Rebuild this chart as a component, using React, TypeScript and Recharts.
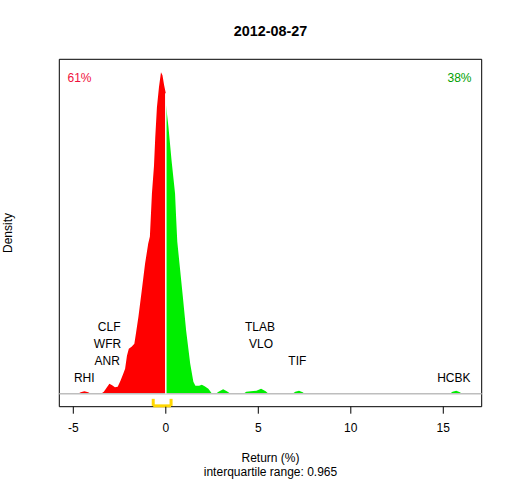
import React from "react";
import {
  ComposedChart,
  Area,
  XAxis,
  YAxis,
  Scatter,
  ReferenceLine,
  ReferenceArea,
} from "recharts";

// Density curve (return %, density in relative units)
const negReturns = [-5.0, -4.75, -4.6, -4.4, -4.2, -4.05, -3.5, -3.35, -3.2, -3.05, -2.9, -2.75, -2.6, -2.45, -2.3, -2.2, -2.1, -2.0, -1.85, -1.7, -1.6, -1.48, -1.3, -1.12, -0.95, -0.86, -0.75, -0.64, -0.57, -0.48, -0.37, -0.26, -0.18, -0.09, 0];
const negDensity = [0, 0, 1.5, 2.5, 1.5, 0, 0, 2, 6, 10, 8.5, 6.5, 7, 13, 20, 25, 38, 45, 47, 50, 62, 77, 103, 130, 150, 157, 200, 227, 256, 286, 306, 321, 318, 308, 300];
const posReturns = [0, 0.14, 0.31, 0.5, 0.56, 0.62, 0.74, 0.92, 1.1, 1.32, 1.49, 1.6, 1.8, 1.95, 2.1, 2.3, 2.5, 2.7, 2.85, 3.1, 3.3, 3.5, 4.2, 4.35, 4.6, 4.9, 5.15, 5.4, 5.55, 6.85, 7.0, 7.2, 7.4, 7.5, 15.35, 15.5, 15.7, 15.9, 16.0];
const posDensity = [290, 267, 233, 200, 175, 152, 130, 97, 63, 30, 12, 8, 8, 9, 7.5, 5, 0, 0, 2, 4.5, 2.5, 0, 0, 2, 2.6, 3, 5, 2.5, 0, 0, 2, 3, 1.5, 0, 0, 2, 3, 1.5, 0];

// Outlier labels
const stockNames = ["RHI", "ANR", "WFR", "CLF", "TLAB", "VLO", "TIF", "HCBK"];
const stockReturns = [-4.41, -3.17, -3.15, -3.06, 5.09, 5.15, 7.11, 15.57];
const stockRows = [0, 1, 2, 3, 3, 2, 1, 0];

const xTicks = [-5, 0, 5, 10, 15];
const quartiles = [-0.68, 0.285];
const title = "2012-08-27";
const negShare = "61%";
const posShare = "38%";
const iqrText = "interquartile range: 0.965";

const X_DOMAIN: [number, number] = [-5.757, 17.076];
const Y_DOMAIN: [number, number] = [-12.84, 333.8];
const FONT = "'Liberation Sans', Arial, sans-serif";

const densityData = [
  ...negReturns.map((r, i) => ({ r, neg: negDensity[i], pos: r === 0 ? posDensity[0] : undefined })),
  ...posReturns.slice(1).map((r, i) => ({ r, neg: undefined, pos: posDensity[i + 1] })),
];

const labelData = stockNames.map((name, i) => ({
  r: stockReturns[i],
  h: 15.6 + stockRows[i] * 17,
  name,
}));

const LabelShape = (props: any) => (
  <text
    x={props.cx}
    y={props.cy}
    textAnchor="middle"
    dominantBaseline="central"
    fontFamily={FONT}
    fontSize={12}
    fill="#000"
  >
    {props.payload.name}
  </text>
);

const abs = (x: number, y: number, extra: React.CSSProperties = {}): React.CSSProperties => ({
  position: "absolute",
  left: x,
  top: y,
  transform: "translate(-50%, -50%)",
  fontFamily: FONT,
  fontSize: 12,
  whiteSpace: "nowrap",
  lineHeight: 1,
  ...extra,
});

export default function App() {
  return (
    <div style={{ position: "absolute", left: 0, top: 0, width: 512, height: 480, background: "#fff" }}>
      <ComposedChart
        width={512}
        height={480}
        data={densityData}
        margin={{ top: 59.3, right: 30.3, left: 59.3, bottom: 43.3 }}
      >
        <XAxis
          dataKey="r"
          type="number"
          domain={X_DOMAIN}
          allowDataOverflow
          ticks={xTicks}
          tickSize={7}
          tickMargin={10}
          axisLine={false}
          tickLine={{ stroke: "#000" }}
          tick={{ fill: "#000", fontSize: 12, fontFamily: FONT }}
          height={30}
        />
        <YAxis type="number" domain={Y_DOMAIN} allowDataOverflow hide />
        <Area
          dataKey="neg"
          type="linear"
          stroke="none"
          fill="#FF0000"
          fillOpacity={1}
          baseValue={0}
          isAnimationActive={false}
        />
        <Area
          dataKey="pos"
          type="linear"
          stroke="none"
          fill="#00EE00"
          fillOpacity={1}
          baseValue={0}
          isAnimationActive={false}
        />
        <ReferenceLine y={0} stroke="#BEBEBE" strokeWidth={1.5} />
        <ReferenceLine
          segment={[{ x: 0, y: 0 }, { x: 0, y: 300 }]}
          stroke="#FFFFFF"
          strokeWidth={1.5}
        />
        <ReferenceLine segment={[{ x: quartiles[0], y: -5 }, { x: quartiles[0], y: -12 }]} stroke="#FFD700" strokeWidth={3} />
        <ReferenceLine segment={[{ x: quartiles[1], y: -5 }, { x: quartiles[1], y: -12 }]} stroke="#FFD700" strokeWidth={3} />
        <ReferenceLine segment={[{ x: quartiles[0], y: -12 }, { x: quartiles[1], y: -12 }]} stroke="#FFD700" strokeWidth={3} />
        <ReferenceArea
          x1={X_DOMAIN[0]}
          x2={X_DOMAIN[1]}
          y1={Y_DOMAIN[0]}
          y2={Y_DOMAIN[1]}
          fill="none"
          fillOpacity={0}
          stroke="#000"
          strokeWidth={1}
          ifOverflow="visible"
        />
        <Scatter data={labelData} dataKey="h" shape={LabelShape} isAnimationActive={false} />
      </ComposedChart>
      <div style={abs(270.5, 31, { fontWeight: "bold", fontSize: 14.4 })}>{title}</div>
      <div style={abs(79.5, 77.7, { color: "#F0103C" })}>{negShare}</div>
      <div style={abs(459.5, 77.7, { color: "#00A000" })}>{posShare}</div>
      <div style={abs(270.5, 457.7)}>Return (%)</div>
      <div style={abs(270.5, 471.5)}>{iqrText}</div>
      <div style={abs(8, 233, { transform: "translate(-50%, -50%) rotate(-90deg)" })}>Density</div>
    </div>
  );
}
